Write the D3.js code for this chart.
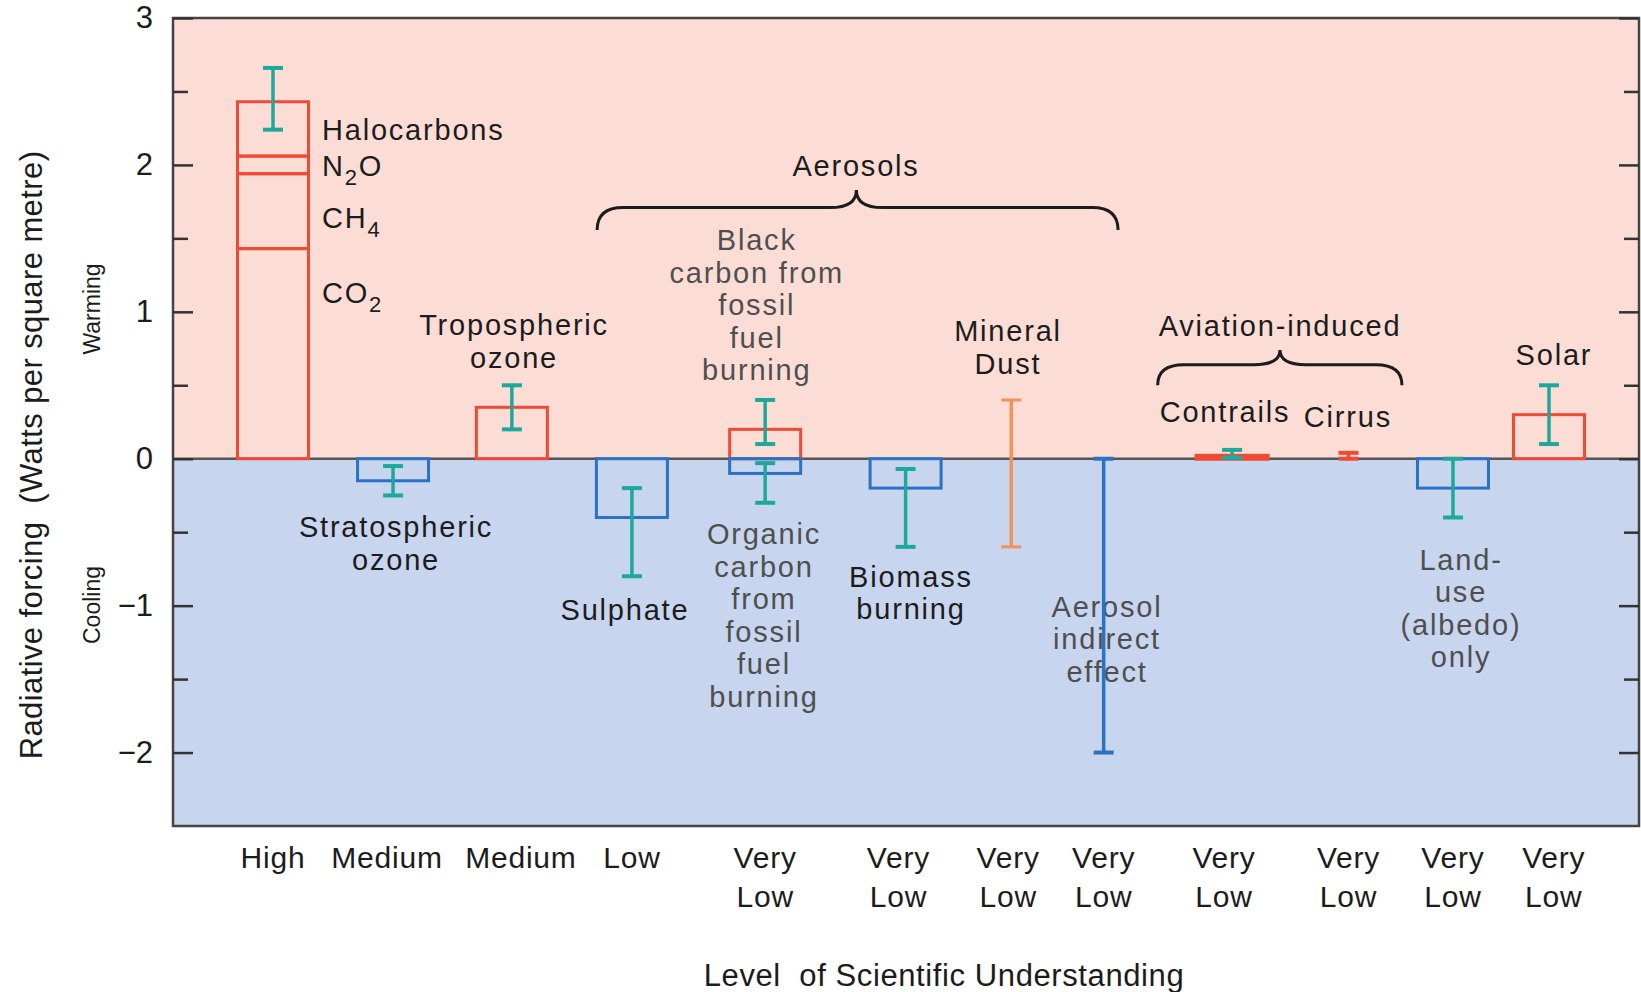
<!DOCTYPE html>
<html>
<head>
<meta charset="utf-8">
<script src="https://cdn.jsdelivr.net/npm/d3@7"></script>
<style>
body { margin: 0; background: #fff; }
svg text { font-family: "Liberation Sans", Arial, Helvetica, sans-serif; }
</style>
</head>
<body>
<svg></svg>
<script>
// x position of each column, in column units (the original spacing is not even)
let columns = [0, 1, 1.99, 2.99, 4.1, 5.27, 6.15, 6.92, 7.99, 8.96, 9.83, 10.63]
let understanding = ["High", "Medium", "Medium", "Low", "Very Low", "Very Low", "Very Low",
    "Very Low", "Very Low", "Very Low", "Very Low", "Very Low"]
// the understanding labels sit slightly off their columns in the original
let labelShift = [0, -0.05, 0.075, 0, 0, -0.06, -0.025, 0, -0.067, 0, 0, 0.04]

// well mixed greenhouse gases, stacked in column 0
let ghgNames = ["CO2", "CH4", "N2O", "Halocarbons"]
let ghgValues = [1.43, 0.51, 0.12, 0.37]

// single bars
let barNames = ["Stratospheric ozone", "Tropospheric ozone", "Sulphate", "Black carbon",
    "Organic carbon", "Biomass burning", "Contrails", "Land-use", "Solar"]
let barColumn = [1, 2, 3, 4, 4, 5, 8, 10, 11]
let barValues = [-0.15, 0.35, -0.4, 0.2, -0.1, -0.2, 0.02, -0.2, 0.3]

// uncertainty ranges
let errNames = ["Greenhouse gases", "Stratospheric ozone", "Tropospheric ozone", "Sulphate",
    "Black carbon", "Organic carbon", "Biomass burning", "Mineral dust",
    "Aerosol indirect effect", "Contrails", "Cirrus", "Land-use", "Solar"]
let errColumn = [0, 1, 2, 3, 4, 4, 5, 6, 7, 8, 9, 10, 11]
let errLow = [2.24, -0.25, 0.2, -0.8, 0.1, -0.3, -0.6, -0.6, -2, 0.005, 0, -0.4, 0.1]
let errHigh = [2.66, -0.05, 0.5, -0.2, 0.4, -0.03, -0.07, 0.4, 0, 0.06, 0.04, 0, 0.5]

let yTicks = [-2, -1, 0, 1, 2, 3]
let yMinorTicks = [-1.5, -0.5, 0.5, 1.5, 2.5]

// labels written on the plot, placed in data coordinates (column, forcing)
let notes = [
    { lines: ["Tropospheric", "ozone"], at: [2.008, 0.917], tone: "dark" },
    { lines: ["Aerosols"], at: [4.857, 1.999], tone: "dark" },
    { lines: ["Black", "carbon from", "fossil", "fuel", "burning"], at: [4.03, 1.495], tone: "grey" },
    { lines: ["Mineral", "Dust"], at: [6.123, 0.876], tone: "dark" },
    { lines: ["Aviation-induced"], at: [8.389, 0.91], tone: "dark" },
    { lines: ["Contrails"], at: [7.931, 0.325], tone: "dark" },
    { lines: ["Cirrus"], at: [8.955, 0.291], tone: "dark" },
    { lines: ["Solar"], at: [10.671, 0.713], tone: "dark" },
    { lines: ["Stratospheric", "ozone"], at: [1.025, -0.458], tone: "dark" },
    { lines: ["Sulphate"], at: [2.932, -1.023], tone: "dark" },
    { lines: ["Organic", "carbon", "from", "fossil", "fuel", "burning"], at: [4.09, -0.506], tone: "grey" },
    { lines: ["Biomass", "burning"], at: [5.315, -0.798], tone: "dark" },
    { lines: ["Aerosol", "indirect", "effect"], at: [6.948, -1.0], tone: "grey" },
    { lines: ["Land-", "use", "(albedo)", "only"], at: [9.897, -0.682], tone: "grey" }
]
let ghgLabelAt = [1.135, 1.645, 1.999, 2.244]

let braces = [
    { from: 2.70, to: 7.04, tip: 4.86, end: 1.557, level: 1.71, peak: 1.83 },
    { from: 7.37, to: 9.405, tip: 8.389, end: 0.50, level: 0.64, peak: 0.74 }
]

let width = 1641
let height = 992
let plotLeft = 173, plotRight = 1639, plotTop = 18, plotBottom = 826
let barWidth = 71
let noteSize = 29, noteSpacing = 1.8, lineGap = 32.5

let red = "#ee4b35", blue = "#2a72c4", teal = "#1ea89a", orange = "#f4925c"

let svg = d3.select("svg").attr("width", width).attr("height", height)

let x = d3.scaleLinear().domain([0, 10.63]).range([273, 1549])
let y = d3.scaleLinear().domain([-2.5, 3]).range([plotBottom, plotTop])

// warming / cooling backgrounds
svg.append("rect").attr("x", plotLeft).attr("y", plotTop).attr("width", plotRight - plotLeft)
    .attr("height", y(0) - plotTop).attr("fill", "#fbddd6")
svg.append("rect").attr("x", plotLeft).attr("y", y(0)).attr("width", plotRight - plotLeft)
    .attr("height", plotBottom - y(0)).attr("fill", "#c8d5ee")

// annotation text
let noteG = svg.append("g")
notes.forEach(n => {
    let t = noteG.append("text")
        .attr("text-anchor", "middle")
        .attr("font-size", noteSize)
        .attr("letter-spacing", noteSpacing)
        .attr("fill", n.tone == "grey" ? "#4f4f4f" : "#1c1c1c")
    n.lines.forEach((line, i) => {
        t.append("tspan").attr("x", x(n.at[0])).attr("y", y(n.at[1]) + 11 + i * lineGap).text(line)
    })
})

// ghg labels with subscripts
let chemLabel = (str, cx, cy) => {
    let t = noteG.append("text").attr("x", cx).attr("y", cy + 11)
        .attr("font-size", noteSize).attr("letter-spacing", noteSpacing).attr("fill", "#1c1c1c")
    str.split(/(\d)/).forEach(part => {
        if (part == "") return
        if (/\d/.test(part)) {
            t.append("tspan").attr("font-size", 22).attr("dy", 9).text(part)
        } else {
            let s = t.append("tspan").text(part)
            if (t.selectAll("tspan").size() > 1) s.attr("dy", -9)
        }
    })
}
ghgNames.forEach((name, i) => chemLabel(name, x(0.408), y(ghgLabelAt[i])))

// braces
let bracePath = b => {
    let x1 = x(b.from), x2 = x(b.to), xm = x(b.tip)
    let ye = y(b.end), yh = y(b.level), yt = y(b.peak)
    let r = 26
    return `M${x1},${ye} Q${x1},${yh} ${x1 + r},${yh} L${xm - r},${yh} Q${xm},${yh} ${xm},${yt}` +
        ` Q${xm},${yh} ${xm + r},${yh} L${x2 - r},${yh} Q${x2},${yh} ${x2},${ye}`
}
svg.append("g").selectAll("path").data(braces).join("path")
    .attr("d", bracePath).attr("fill", "none").attr("stroke", "#1c1c1c").attr("stroke-width", 3)

// zero line
svg.append("line").attr("x1", plotLeft).attr("x2", plotRight).attr("y1", y(0)).attr("y2", y(0))
    .attr("stroke", "#555").attr("stroke-width", 2.5)

// stacked greenhouse gas bar
let stack = []
let base = 0
ghgValues.forEach((v, i) => { stack.push({ name: ghgNames[i], y0: base, y1: base + v }); base += v })
svg.append("g").selectAll("rect").data(stack).join("rect")
    .attr("x", x(columns[0]) - barWidth / 2)
    .attr("width", barWidth)
    .attr("y", d => y(d.y1))
    .attr("height", d => y(d.y0) - y(d.y1))
    .attr("fill", "none").attr("stroke", red).attr("stroke-width", 3)

// other bars
let bars = barNames.map((name, i) => ({ name, col: barColumn[i], value: barValues[i] }))
svg.append("g").selectAll("rect").data(bars).join("rect")
    .attr("x", d => x(columns[d.col]) - barWidth / 2)
    .attr("width", barWidth)
    .attr("y", d => y(Math.max(0, d.value)))
    .attr("height", d => Math.abs(y(d.value) - y(0)))
    .attr("fill", "none")
    .attr("stroke", d => d.value > 0 ? red : blue)
    .attr("stroke-width", d => d.name == "Contrails" ? 4 : 3)

// error bars
let errColour = name => {
    if (name == "Mineral dust") return orange
    if (name == "Aerosol indirect effect") return blue
    if (name == "Cirrus") return red
    return teal
}
let errs = errNames.map((name, i) => ({ name, col: errColumn[i], lo: errLow[i], hi: errHigh[i] }))
let errG = svg.append("g").selectAll("g").data(errs).join("g")
    .attr("stroke", d => errColour(d.name))
errG.append("line")
    .attr("x1", d => x(columns[d.col])).attr("x2", d => x(columns[d.col]))
    .attr("y1", d => y(d.hi)).attr("y2", d => y(d.lo))
    .attr("stroke-width", 3.5)
errG.selectAll(".cap").data(d => [d.lo, d.hi].map(v => ({ v, d }))).join("line")
    .attr("class", "cap")
    .attr("x1", c => x(columns[c.d.col]) - 10).attr("x2", c => x(columns[c.d.col]) + 10)
    .attr("y1", c => y(c.v)).attr("y2", c => y(c.v))
    .attr("stroke-width", c => c.d.name == "Mineral dust" ? 3 : 4)

// frame
svg.append("rect").attr("x", plotLeft).attr("y", plotTop).attr("width", plotRight - plotLeft)
    .attr("height", plotBottom - plotTop)
    .attr("fill", "none").attr("stroke", "#444").attr("stroke-width", 2.5)

// y axes (ticks pointing inwards on both sides)
let styleAxis = g => {
    g.select(".domain").remove()
    g.selectAll("line").attr("stroke", "#333").attr("stroke-width", 2.5)
    g.selectAll("text").attr("font-size", 31).attr("fill", "#1c1c1c")
        .style("font-family", "'Liberation Sans', Arial, sans-serif")
}
svg.append("g").attr("transform", `translate(${plotLeft},0)`)
    .call(d3.axisLeft(y).tickValues(yTicks).tickFormat(d3.format("d"))
        .tickSizeInner(-20).tickSizeOuter(0).tickPadding(20))
    .call(styleAxis)
svg.append("g").attr("transform", `translate(${plotLeft},0)`)
    .call(d3.axisLeft(y).tickValues(yMinorTicks).tickSizeInner(-15).tickSizeOuter(0).tickFormat(""))
    .call(styleAxis)
svg.append("g").attr("transform", `translate(${plotRight},0)`)
    .call(d3.axisLeft(y).tickValues(yTicks).tickSizeInner(20).tickSizeOuter(0).tickFormat(""))
    .call(styleAxis)
svg.append("g").attr("transform", `translate(${plotRight},0)`)
    .call(d3.axisLeft(y).tickValues(yMinorTicks).tickSizeInner(15).tickSizeOuter(0).tickFormat(""))
    .call(styleAxis)

// level of understanding labels
let xLab = svg.append("g").selectAll("text").data(understanding).join("text")
    .attr("text-anchor", "middle").attr("font-size", 30).attr("letter-spacing", 0.8)
    .attr("fill", "#1c1c1c")
xLab.each(function (d, i) {
    let words = d == "Very Low" ? ["Very", "Low"] : [d]
    words.forEach((w, k) => {
        d3.select(this).append("tspan").attr("x", x(columns[i] + labelShift[i]))
            .attr("y", 868 + k * 39).text(w)
    })
})

// axis titles
svg.append("text").attr("x", 944).attr("y", 986).attr("text-anchor", "middle")
    .attr("font-size", 31).attr("letter-spacing", 0.6).attr("fill", "#1c1c1c").attr("xml:space", "preserve")
    .text("Level  of Scientific Understanding")
svg.append("text").attr("transform", "translate(42,455) rotate(-90)").attr("text-anchor", "middle")
    .attr("font-size", 31).attr("letter-spacing", 0.4).attr("fill", "#1c1c1c").attr("xml:space", "preserve")
    .text("Radiative forcing  (Watts per square metre)")
svg.append("text").attr("transform", "translate(100,309) rotate(-90)").attr("text-anchor", "middle")
    .attr("font-size", 23).attr("fill", "#1c1c1c").text("Warming")
svg.append("text").attr("transform", "translate(100,605) rotate(-90)").attr("text-anchor", "middle")
    .attr("font-size", 23).attr("fill", "#1c1c1c").text("Cooling")
</script>
</body>
</html>
